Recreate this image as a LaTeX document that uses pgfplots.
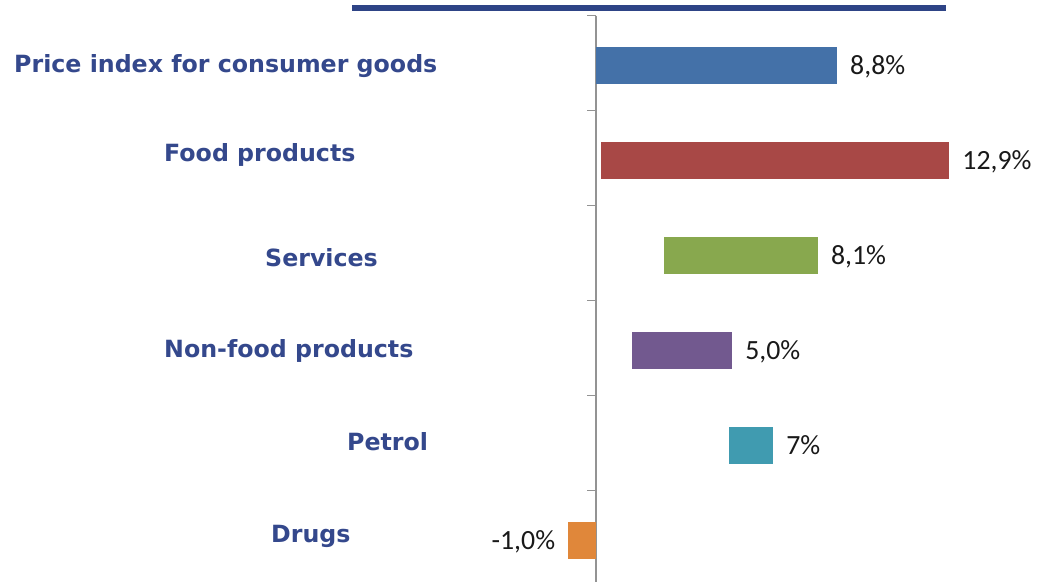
\documentclass[border=0pt]{standalone}
\usepackage{pgfplots}
\pgfplotsset{compat=1.18}
\usepackage{fontspec}
\newfontfamily\labfont{DejaVu Sans}
\newfontfamily\valfont{Carlito}
\definecolor{labblue}{HTML}{34488C}
\definecolor{topblue}{HTML}{2E4486}
\definecolor{cA}{HTML}{4471A8}
\definecolor{cB}{HTML}{A84846}
\definecolor{cC}{HTML}{88A84E}
\definecolor{cD}{HTML}{72598F}
\definecolor{cE}{HTML}{409BB0}
\definecolor{cF}{HTML}{E0873A}
\tikzset{vallab/.style={font=\valfont\fontsize{27.8}{30}\selectfont, text=black!90, inner xsep=13pt, inner ysep=0pt, text depth=0pt}}
\begin{document}
\begin{tikzpicture}
\path[use as bounding box] (0,0) rectangle (1038pt,582pt);
\draw[topblue, line width=5.5pt] (352pt,574pt) -- (946pt,574pt);
\begin{axis}[
  at={(596pt,517pt)}, anchor=origin,
  x=27.386pt, y=95pt, y dir=reverse,
  xmin=0, xmax=13, ymin=-0.52, ymax=5.44,
  clip=false,
  axis x line=none,
  axis y line*=left,
  axis line style={draw=gray!85, line width=1.2pt},
  ytick={-0.52,0.48,1.48,2.48,3.48,4.48},
  yticklabels={},
  tick align=outside,
  major tick length=9pt,
  tick style={draw=gray!85, line width=1.2pt},
  xbar stacked, bar width=37pt,
]
% invisible offsets
\addplot[draw=none, fill=none] coordinates {(0,0) (0.18,1) (2.48,2) (1.31,3) (4.86,4) (0,5)};
\addplot[draw=none, fill=cA] coordinates {(8.8,0) (0,1) (0,2) (0,3) (0,4) (0,5)};
\addplot[draw=none, fill=cB] coordinates {(0,0) (12.72,1) (0,2) (0,3) (0,4) (0,5)};
\addplot[draw=none, fill=cC] coordinates {(0,0) (0,1) (5.62,2) (0,3) (0,4) (0,5)};
\addplot[draw=none, fill=cD] coordinates {(0,0) (0,1) (0,2) (3.66,3) (0,4) (0,5)};
\addplot[draw=none, fill=cE] coordinates {(0,0) (0,1) (0,2) (0,3) (1.61,4) (0,5)};
\addplot[draw=none, fill=cF] coordinates {(0,0) (0,1) (0,2) (0,3) (0,4) (-1.01,5)};
\node[vallab, anchor=west] at (axis cs:8.8,0) {8,8\%};
\node[vallab, anchor=west] at (axis cs:12.9,1) {12,9\%};
\node[vallab, anchor=west] at (axis cs:8.1,2) {8,1\%};
\node[vallab, anchor=west] at (axis cs:4.97,3) {5,0\%};
\node[vallab, anchor=west] at (axis cs:6.47,4) {7\%};
\node[vallab, anchor=east] at (axis cs:-1.01,5) {-1,0\%};
\end{axis}
\begin{scope}[every node/.style={anchor=base west, inner sep=0pt, text=labblue, font=\labfont\bfseries\fontsize{23.7}{25}\selectfont}]
\node at (14pt,509pt) {Price index for consumer goods};
\node at (164pt,420pt) {Food products};
\node at (265pt,316pt) {Services};
\node at (164pt,225pt) {Non-food products};
\node at (347pt,131.5pt) {Petrol};
\node at (271pt,40pt) {Drugs};
\end{scope}
\end{tikzpicture}
\end{document}
